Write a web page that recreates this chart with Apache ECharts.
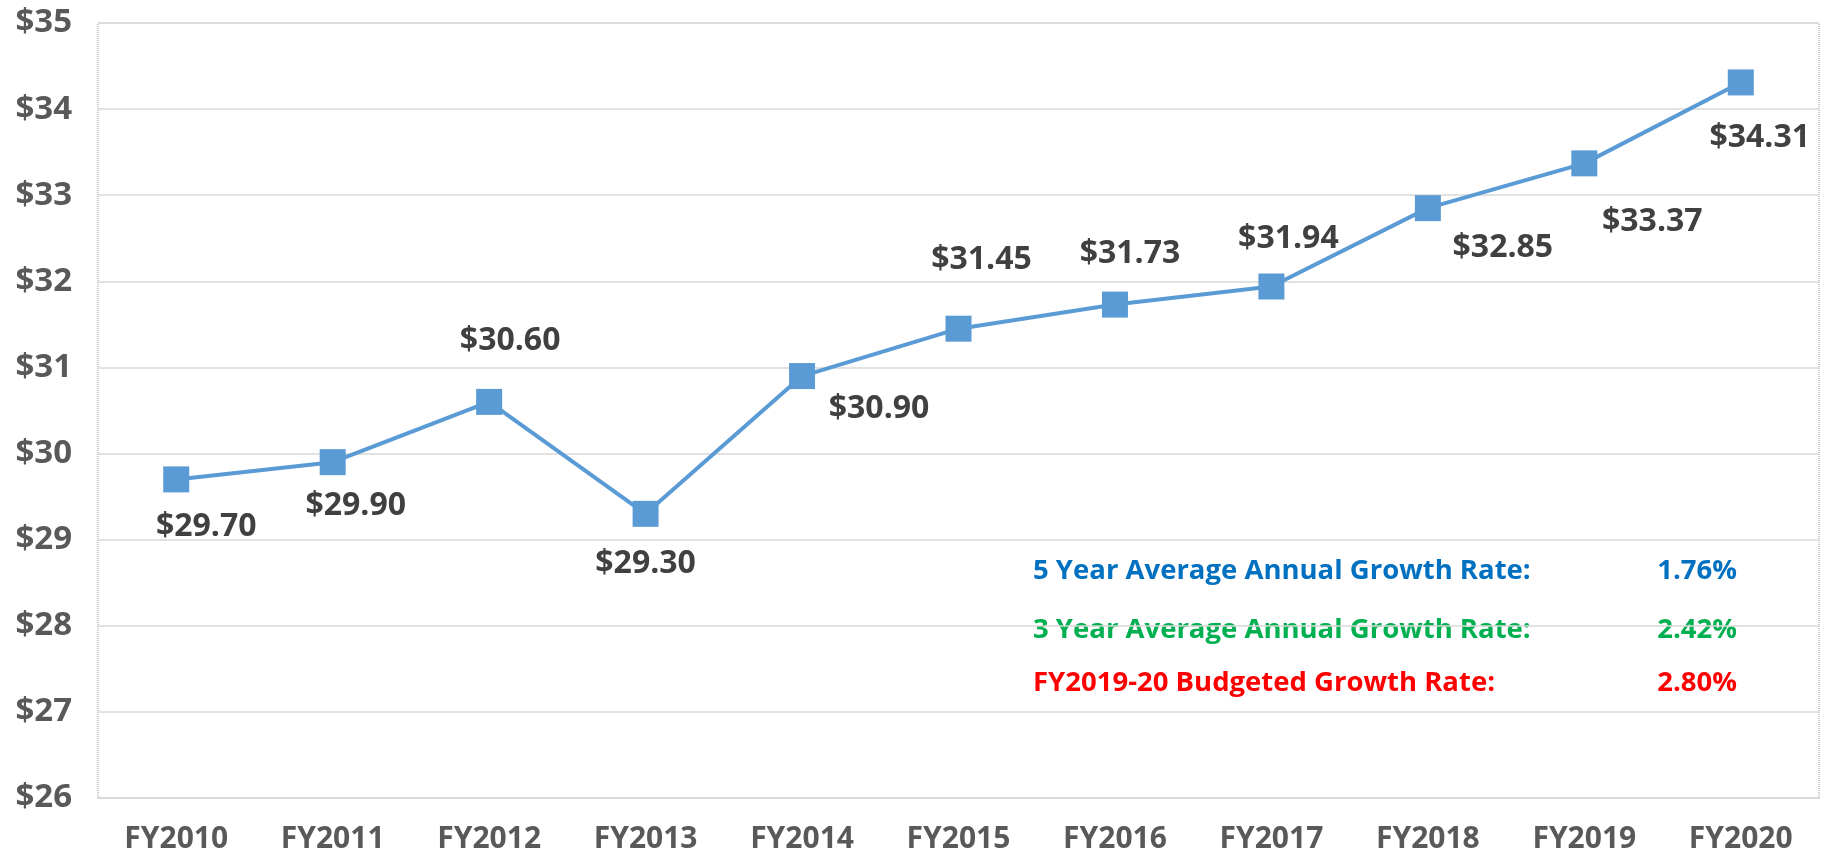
<!DOCTYPE html>
<html>
<head>
    <meta charset="utf-8">
    <title>Growth chart</title>
    <script src="https://cdn.jsdelivr.net/npm/echarts@6/dist/echarts.min.js"></script>
    <style>
        html, body { margin: 0; padding: 0; background: #fff; }
        #main { width: 1826px; height: 858px; }
    </style>
</head>
<body>
<div id="main"></div>
<script type="text/javascript">
    // data
    var years = ['FY2010', 'FY2011', 'FY2012', 'FY2013', 'FY2014', 'FY2015', 'FY2016', 'FY2017', 'FY2018', 'FY2019', 'FY2020'];
    var values = [29.70, 29.90, 30.60, 29.30, 30.90, 31.45, 31.73, 31.94, 32.85, 33.37, 34.31];
    var rateNames = ['5 Year Average Annual Growth Rate:', '3 Year Average Annual Growth Rate:', 'FY2019-20 Budgeted Growth Rate:'];
    var rateValues = ['1.76%', '2.42%', '2.80%'];

    // label placement (px offset from the marker centre)
    var labelOffsets = [[30, 48], [23, 44], [21, -61], [0, 50], [77, 33], [23, -69], [15, -51], [17, -48], [75, 40], [68, 59], [19, 55]];
    var rateColors = ['#0070C0', '#00B050', '#FF0000'];
    var rateRows = [576, 635, 688];

    var font = '"Open Sans", "Noto Sans", sans-serif';

    var seriesData = values.map(function (v, i) {
        return {
            value: v,
            label: { offset: labelOffsets[i] }
        };
    });

    var graphics = [];
    rateNames.forEach(function (name, i) {
        graphics.push({
            type: 'text', left: 1033, top: rateRows[i] - 19,
            style: { text: name, fill: rateColors[i], font: 'bold 27.5px ' + font }
        });
        graphics.push({
            type: 'text', right: 1826 - 1737, top: rateRows[i] - 19,
            style: { text: rateValues[i], fill: rateColors[i], font: 'bold 27.5px ' + font }
        });
    });

    var myChart = echarts.init(document.getElementById('main'));
    var option = {
        animation: false,
        grid: {
            left: 98, right: 7, top: 23, bottom: 60,
            show: true, borderType: 'dotted', borderColor: '#999', borderWidth: 1
        },
        xAxis: {
            type: 'category',
            data: years,
            boundaryGap: true,
            axisLine: { show: true, lineStyle: { color: '#D9D9D9', width: 2 } },
            axisTick: { show: false },
            axisLabel: { color: '#595959', fontSize: 30, fontWeight: 'bold', fontFamily: font, margin: 26 }
        },
        yAxis: {
            type: 'value',
            min: 26, max: 35, interval: 1,
            axisLine: { show: false },
            axisTick: { show: false },
            splitLine: { lineStyle: { color: '#D9D9D9', width: 1.5 } },
            axisLabel: {
                color: '#595959', fontSize: 33, fontWeight: 'bold', fontFamily: font, margin: 26,
                formatter: function (v) { return '$' + v; }
            }
        },
        series: [{
            type: 'line',
            data: seriesData,
            symbol: 'rect',
            symbolSize: 26,
            itemStyle: { color: '#5B9BD5' },
            lineStyle: { color: '#5B9BD5', width: 4 },
            label: {
                show: true,
                position: 'inside',
                color: '#404040',
                fontSize: 32,
                fontWeight: 'bold',
                fontFamily: font,
                formatter: function (p) { return '$' + p.value.toFixed(2); }
            }
        }],
        graphic: graphics
    };
    myChart.setOption(option);
</script>
</body>
</html>
